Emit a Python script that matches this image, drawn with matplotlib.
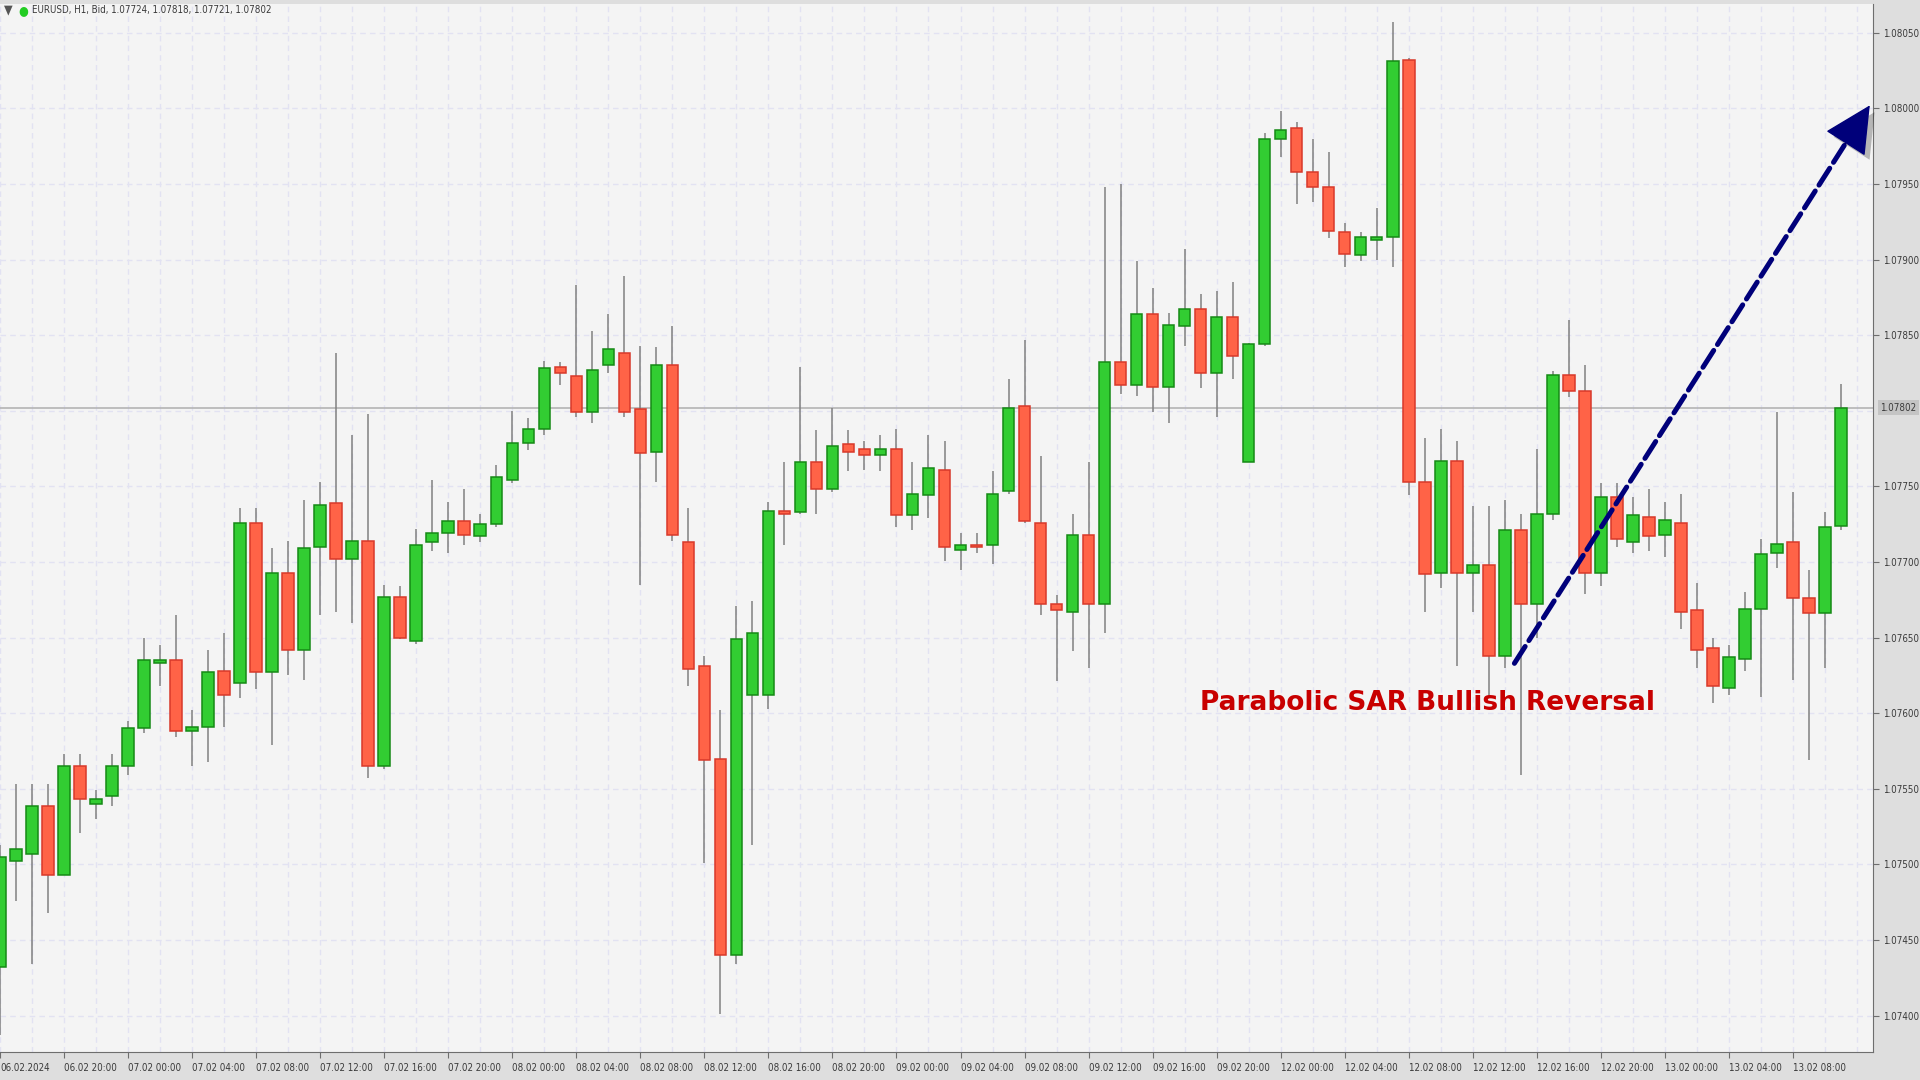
import matplotlib
matplotlib.use("Agg")
import matplotlib.pyplot as plt
import matplotlib.patheffects as pe
from matplotlib import font_manager
import numpy as np

# narrow font for the scales if one is there, else small DejaVu
have_narrow = any(f.name == 'Liberation Sans Narrow' for f in font_manager.fontManager.ttflist)
have_cond = any(f.name == 'DejaVu Sans' and f.stretch == 'condensed'
                for f in font_manager.fontManager.ttflist)
if have_narrow:
    plt.rcParams['font.family'] = ['Liberation Sans Narrow', 'DejaVu Sans']
    SCALE_FS = 8
elif have_cond:
    plt.rcParams['font.family'] = ['DejaVu Sans']
    plt.rcParams['font.stretch'] = 'condensed'
    SCALE_FS = 7
else:
    plt.rcParams['font.family'] = ['DejaVu Sans']
    SCALE_FS = 6.4

# EURUSD H1 candles, 06.02 16:00 -> 13.02 11:00
open_ = [1.07432, 1.07502, 1.07507, 1.07539, 1.07493, 1.07565, 1.07540, 1.07545, 1.07565, 1.07590,
         1.07633, 1.07635, 1.07588, 1.07591, 1.07628, 1.07620, 1.07726, 1.07627, 1.07693, 1.07642,
         1.07710, 1.07739, 1.07702, 1.07714, 1.07565, 1.07677, 1.07648, 1.07713, 1.07719, 1.07727,
         1.07717, 1.07725, 1.07754, 1.07779, 1.07788, 1.07829, 1.07823, 1.07799, 1.07830, 1.07838,
         1.07801, 1.07773, 1.07830, 1.07713, 1.07631, 1.07570, 1.07440, 1.07612, 1.07612, 1.07734,
         1.07733, 1.07766, 1.07748, 1.07778, 1.07775, 1.07771, 1.07775, 1.07731, 1.07744, 1.07761,
         1.07708, 1.07711, 1.07711, 1.07747, 1.07803, 1.07726, 1.07672, 1.07667, 1.07718, 1.07672,
         1.07832, 1.07817, 1.07864, 1.07816, 1.07856, 1.07867, 1.07825, 1.07862, 1.07766, 1.07844,
         1.07980, 1.07987, 1.07958, 1.07948, 1.07918, 1.07903, 1.07913, 1.07915, 1.08032, 1.07753,
         1.07693, 1.07767, 1.07693, 1.07698, 1.07638, 1.07721, 1.07672, 1.07732, 1.07824, 1.07813,
         1.07693, 1.07743, 1.07713, 1.07730, 1.07718, 1.07726, 1.07668, 1.07643, 1.07617, 1.07636,
         1.07669, 1.07706, 1.07713, 1.07676, 1.07666, 1.07724]
high = [1.07513, 1.07553, 1.07553, 1.07553, 1.07573, 1.07573, 1.07549, 1.07573, 1.07595, 1.07650,
        1.07645, 1.07665, 1.07602, 1.07642, 1.07653, 1.07736, 1.07736, 1.07709, 1.07714, 1.07741,
        1.07753, 1.07838, 1.07784, 1.07798, 1.07685, 1.07684, 1.07722, 1.07754, 1.07740, 1.07748,
        1.07732, 1.07764, 1.07800, 1.07795, 1.07833, 1.07832, 1.07883, 1.07853, 1.07864, 1.07889,
        1.07843, 1.07842, 1.07856, 1.07736, 1.07638, 1.07602, 1.07671, 1.07674, 1.07740, 1.07766,
        1.07829, 1.07787, 1.07802, 1.07787, 1.07780, 1.07784, 1.07788, 1.07766, 1.07784, 1.07780,
        1.07719, 1.07719, 1.07760, 1.07821, 1.07847, 1.07770, 1.07678, 1.07732, 1.07766, 1.07948,
        1.07950, 1.07899, 1.07881, 1.07865, 1.07907, 1.07877, 1.07879, 1.07885, 1.07845, 1.07984,
        1.07998, 1.07991, 1.07980, 1.07971, 1.07924, 1.07918, 1.07934, 1.08057, 1.08033, 1.07782,
        1.07788, 1.07780, 1.07737, 1.07737, 1.07741, 1.07732, 1.07775, 1.07826, 1.07860, 1.07830,
        1.07752, 1.07752, 1.07743, 1.07748, 1.07740, 1.07745, 1.07686, 1.07650, 1.07645, 1.07680,
        1.07715, 1.07799, 1.07746, 1.07695, 1.07733, 1.07818]
low = [1.07387, 1.07476, 1.07434, 1.07468, 1.07493, 1.07521, 1.07530, 1.07539, 1.07559, 1.07587,
       1.07618, 1.07584, 1.07565, 1.07568, 1.07591, 1.07610, 1.07616, 1.07579, 1.07625, 1.07622,
       1.07665, 1.07667, 1.07660, 1.07557, 1.07563, 1.07649, 1.07646, 1.07707, 1.07706, 1.07711,
       1.07713, 1.07723, 1.07752, 1.07774, 1.07784, 1.07817, 1.07796, 1.07792, 1.07825, 1.07796,
       1.07685, 1.07753, 1.07714, 1.07618, 1.07501, 1.07401, 1.07434, 1.07513, 1.07603, 1.07711,
       1.07732, 1.07732, 1.07746, 1.07760, 1.07761, 1.07760, 1.07723, 1.07721, 1.07729, 1.07701,
       1.07695, 1.07706, 1.07699, 1.07745, 1.07726, 1.07665, 1.07621, 1.07641, 1.07630, 1.07653,
       1.07811, 1.07810, 1.07799, 1.07792, 1.07843, 1.07815, 1.07796, 1.07821, 1.07766, 1.07843,
       1.07968, 1.07937, 1.07938, 1.07914, 1.07895, 1.07899, 1.07900, 1.07895, 1.07744, 1.07667,
       1.07683, 1.07631, 1.07667, 1.07610, 1.07630, 1.07559, 1.07650, 1.07728, 1.07809, 1.07679,
       1.07684, 1.07710, 1.07706, 1.07707, 1.07703, 1.07656, 1.07630, 1.07607, 1.07612, 1.07628,
       1.07611, 1.07696, 1.07622, 1.07569, 1.07630, 1.07721]
close = [1.07505, 1.07510, 1.07539, 1.07493, 1.07565, 1.07543, 1.07543, 1.07565, 1.07590, 1.07635,
         1.07635, 1.07588, 1.07591, 1.07627, 1.07612, 1.07726, 1.07627, 1.07693, 1.07642, 1.07709,
         1.07738, 1.07702, 1.07714, 1.07565, 1.07677, 1.07650, 1.07711, 1.07719, 1.07727, 1.07718,
         1.07725, 1.07756, 1.07779, 1.07788, 1.07828, 1.07825, 1.07799, 1.07827, 1.07841, 1.07799,
         1.07772, 1.07830, 1.07718, 1.07629, 1.07569, 1.07440, 1.07649, 1.07653, 1.07734, 1.07732,
         1.07766, 1.07748, 1.07777, 1.07773, 1.07771, 1.07775, 1.07731, 1.07745, 1.07762, 1.07710,
         1.07711, 1.07710, 1.07745, 1.07802, 1.07727, 1.07672, 1.07668, 1.07718, 1.07672, 1.07832,
         1.07817, 1.07864, 1.07816, 1.07857, 1.07867, 1.07825, 1.07862, 1.07836, 1.07844, 1.07980,
         1.07986, 1.07958, 1.07948, 1.07919, 1.07904, 1.07915, 1.07915, 1.08031, 1.07753, 1.07692,
         1.07767, 1.07693, 1.07698, 1.07638, 1.07721, 1.07672, 1.07732, 1.07824, 1.07813, 1.07693,
         1.07743, 1.07715, 1.07731, 1.07717, 1.07728, 1.07667, 1.07642, 1.07618, 1.07637, 1.07669,
         1.07705, 1.07712, 1.07676, 1.07666, 1.07723, 1.07802]

time_labels = ['06.02.2024', '06.02 20:00', '07.02 00:00', '07.02 04:00', '07.02 08:00', '07.02 12:00',
               '07.02 16:00', '07.02 20:00', '08.02 00:00', '08.02 04:00', '08.02 08:00', '08.02 12:00',
               '08.02 16:00', '08.02 20:00', '09.02 00:00', '09.02 04:00', '09.02 08:00', '09.02 12:00',
               '09.02 16:00', '09.02 20:00', '12.02 00:00', '12.02 04:00', '12.02 08:00', '12.02 12:00',
               '12.02 16:00', '12.02 20:00', '13.02 00:00', '13.02 04:00', '13.02 08:00']
price_ticks = [1.0740, 1.0745, 1.0750, 1.0755, 1.0760, 1.0765, 1.0770, 1.0775,
               1.0785, 1.0790, 1.0795, 1.0800, 1.0805]
last_price = 1.07802
header = "EURUSD, H1, Bid, 1.07724, 1.07818, 1.07721, 1.07802"
note = "Parabolic SAR Bullish Reversal"
arrow_start = (94.6, 1.07633)
arrow_end = (116.8, 1.08002)

o = np.array(open_)
h = np.array(high)
l = np.array(low)
c = np.array(close)
x = np.arange(len(o))
up = c >= o

BG = '#f4f4f4'
PANEL = '#dedede'
GRID = '#e2e2f2'
TXT = '#3a3a3a'
NAVY = '#00007a'

fig = plt.figure(figsize=(19.2, 10.8), dpi=100, facecolor=PANEL)
ax = fig.add_axes([0, 28/1080, 1873/1920, 1048/1080])
ax.set_facecolor(BG)

# grid
for gx in range(0, 118, 2):
    ax.axvline(gx, color=GRID, lw=1, ls=(0, (4, 3)), zorder=0)
for gy in np.arange(1.0740, 1.0806, 0.0005):
    ax.axhline(gy, color=GRID, lw=1, ls=(0, (4, 3)), zorder=0)

# current price line
ax.axhline(last_price, color='#b4b4b4', lw=1.2, zorder=1)

# candles
ax.vlines(x, l, h, color='#808080', lw=1.1, zorder=2)
body_bottom = np.minimum(o, c)
body_h = np.maximum(np.abs(c - o), 0.000015)
ax.bar(x[up], body_h[up], bottom=body_bottom[up], width=0.72,
       color='#32cd32', edgecolor='#158a15', linewidth=1.1, zorder=3)
ax.bar(x[~up], body_h[~up], bottom=body_bottom[~up], width=0.72,
       color='#ff6347', edgecolor='#d8392a', linewidth=1.1, zorder=3)

ax.set_xlim(0, 117.0)
ax.set_ylim(1.07376, 1.08069)

# axes styling
for s in ['left', 'top']:
    ax.spines[s].set_visible(False)
ax.spines['right'].set_color('#6e6e6e')
ax.spines['bottom'].set_color('#6e6e6e')
ax.yaxis.tick_right()
ax.set_yticks(price_ticks)
ax.set_yticklabels([f"{p:.5f}" for p in price_ticks])
ax.set_xticks(np.arange(0, 4 * len(time_labels), 4))
ax.set_xticklabels(time_labels, ha='left')
ax.tick_params(axis='y', direction='out', length=4, pad=3, colors='#6e6e6e',
               labelcolor=TXT, labelsize=SCALE_FS)
ax.tick_params(axis='x', direction='out', length=4, pad=4, colors='#6e6e6e',
               labelcolor=TXT, labelsize=SCALE_FS)

# current price label on the scale
ax.annotate(f"{last_price:.5f}", xy=(1.0, last_price), xycoords=('axes fraction', 'data'),
            xytext=(5, 0), textcoords='offset points', ha='left', va='center',
            fontsize=SCALE_FS, color=TXT, annotation_clip=False,
            bbox=dict(boxstyle='square,pad=0.25', fc='#c4c4c4', ec='none'))

# header
fig.text(0.002, 0.9905, "\u25bc", fontsize=9, color='#555555', va='center',
         family='DejaVu Sans')
fig.text(0.0095, 0.9898, "\u25cf", fontsize=9, color='#22cc22', va='center',
         family='DejaVu Sans')
fig.text(0.0165, 0.9905, header, fontsize=SCALE_FS, color=TXT, va='center')

# dashed shaft with soft shadow, solid head at the tip
shadow = [pe.SimpleLineShadow(offset=(4, -4), shadow_color='#000000', alpha=0.25), pe.Normal()]
ax.annotate('', xy=arrow_end, xytext=arrow_start,
            arrowprops=dict(arrowstyle='-', lw=3.6, linestyle=(0, (4, 1.4)),
                            color=NAVY, shrinkA=0, shrinkB=14,
                            path_effects=[pe.withSimplePatchShadow(offset=(4, -4),
                                          shadow_rgbFace='#000000', alpha=0.25)]),
            zorder=5, annotation_clip=False)
dx = arrow_end[0] - arrow_start[0]
dy = arrow_end[1] - arrow_start[1]
ax.annotate('', xy=arrow_end, xytext=(arrow_end[0] - 0.08 * dx, arrow_end[1] - 0.08 * dy),
            arrowprops=dict(arrowstyle='-|>,head_length=1.4,head_width=0.7',
                            mutation_scale=22, lw=1, color=NAVY, shrinkA=0, shrinkB=0,
                            path_effects=[pe.withSimplePatchShadow(offset=(4, -4),
                                          shadow_rgbFace='#000000', alpha=0.25)]),
            zorder=5, annotation_clip=False)

ax.text(89.2, 1.07607, note, fontsize=19, fontweight='bold', color='#c80000',
        ha='center', va='center', family='DejaVu Sans', stretch='normal', zorder=6)

fig.savefig('out.png', dpi=100, facecolor=PANEL)
